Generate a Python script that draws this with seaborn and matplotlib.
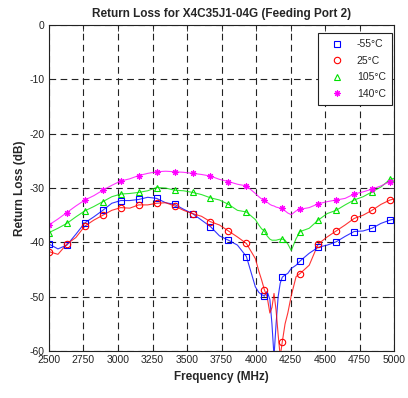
import numpy as np
import pandas as pd
import matplotlib
matplotlib.use("Agg")
import matplotlib.pyplot as plt
import seaborn as sns

# ---- data -------------------------------------------------------------
line_freq = [2500, 2565, 2630, 2695, 2760, 2825, 2890, 2955, 3020, 3085,
             3150, 3215, 3280, 3345, 3410, 3475, 3540, 3605, 3670, 3735,
             3800, 3865, 3930, 3995, 4020, 4040, 4060, 4080, 4100, 4115,
             4130, 4145, 4160, 4175, 4190, 4210, 4230, 4255, 4290, 4320,
             4385, 4450, 4515, 4580, 4645, 4710, 4775, 4840, 4905, 4970, 5000]

line_m55 = [-40.3, -41.2, -40.5, -38.5, -36.4, -35.3, -34.1, -32.8, -32.3, -32.3,
            -32.1, -31.7, -31.9, -32.7, -33.0, -33.9, -34.7, -35.9, -37.1, -38.8,
            -39.6, -40.5, -42.6, -48.2, -49.2, -49.6, -49.9, -49.0, -50.5, -55.0,
            -61.0, -55.0, -50.0, -47.5, -46.4, -46.0, -45.7, -44.8, -44.2, -43.4,
            -42.0, -40.9, -40.5, -39.9, -38.9, -38.0, -37.9, -37.4, -36.5, -35.9, -35.7]

line_25 = [-41.7, -42.2, -40.3, -39.1, -37.0, -35.9, -35.0, -34.1, -33.6, -33.7,
           -33.1, -33.1, -32.8, -32.7, -33.3, -34.1, -34.7, -35.2, -36.2, -36.8,
           -37.9, -39.0, -40.2, -43.0, -45.3, -46.9, -48.7, -50.0, -53.0, -52.0,
           -49.4, -52.5, -57.0, -61.0, -58.3, -55.0, -53.0, -49.8, -46.3, -45.7,
           -44.2, -40.3, -39.0, -37.9, -36.8, -35.6, -35.0, -34.1, -33.0, -32.2, -32.0]

line_105 = [-38.2, -37.4, -36.5, -35.3, -34.2, -33.4, -32.5, -31.6, -31.1, -31.0,
            -30.8, -30.5, -29.9, -30.0, -30.4, -30.5, -30.8, -31.2, -31.8, -32.2,
            -33.0, -34.1, -34.4, -35.8, -36.8, -37.5, -37.9, -38.8, -39.4, -39.6,
            -39.6, -39.6, -39.5, -39.4, -39.4, -39.6, -40.3, -41.5, -39.3, -38.0,
            -37.4, -35.9, -34.7, -34.1, -33.1, -32.2, -31.6, -30.7, -29.8, -28.4, -28.2]

line_140 = [-36.8, -35.7, -34.5, -33.3, -32.2, -31.4, -30.4, -29.5, -28.7, -28.3,
            -27.7, -27.3, -27.0, -26.9, -27.0, -27.1, -27.3, -27.5, -27.8, -28.4,
            -28.8, -29.3, -29.6, -31.0, -31.6, -32.0, -32.2, -32.6, -33.0, -33.2,
            -33.3, -33.5, -33.6, -33.7, -33.7, -34.2, -34.6, -34.9, -34.2, -33.9,
            -33.6, -32.9, -32.5, -32.2, -31.9, -31.1, -30.7, -30.2, -29.6, -28.8, -28.5]

marker_freq = [2500, 2630, 2760, 2890, 3020, 3150, 3280, 3410, 3540, 3670,
               3800, 3930, 4060, 4190, 4320, 4450, 4580, 4710, 4840, 4970]

mk_m55 = [-40.3, -40.5, -36.4, -34.1, -32.3, -32.1, -31.9, -33.0, -34.7, -37.1,
          -39.6, -42.6, -49.9, -46.4, -43.4, -40.9, -39.9, -38.0, -37.4, -35.9]
mk_25 = [-41.7, -40.3, -37.0, -35.0, -33.6, -33.1, -32.8, -33.3, -34.7, -36.2,
         -37.9, -40.2, -48.7, -58.3, -45.9, -40.3, -37.9, -35.6, -34.1, -32.2]
mk_105 = [-38.2, -36.5, -34.2, -32.5, -31.1, -30.8, -29.9, -30.4, -30.8, -31.8,
          -33.0, -34.4, -37.9, -39.4, -38.0, -35.9, -34.1, -32.2, -30.7, -28.4]
mk_140 = [-36.8, -34.5, -32.2, -30.4, -28.7, -27.7, -27.0, -27.0, -27.3, -27.8,
          -28.8, -29.6, -32.2, -33.7, -33.9, -32.9, -32.2, -31.1, -30.2, -28.8]

labels = ["-55°C", "25°C", "105°C", "140°C"]
x_ticks = [2500, 2750, 3000, 3250, 3500, 3750, 4000, 4250, 4500, 4750, 5000]
y_ticks = [0, -10, -20, -30, -40, -50, -60]

title = "Return Loss for X4C35J1-04G (Feeding Port 2)"
xlabel = "Frequency (MHz)"
ylabel = "Return Loss (dB)"

# ---- style ------------------------------------------------------------
sns.set_style("white")
plt.rcParams['font.family'] = ['Liberation Sans', 'DejaVu Sans']
plt.rcParams['axes.unicode_minus'] = False

colors = ["#0000ff", "#ff0000", "#00e000", "#ff00ff"]
markers = ["s", "o", "^", (8, 2, 0)]

fig = plt.figure(figsize=(4.08, 3.98), dpi=100)
ax = fig.add_axes([0.120, 0.118, 0.846, 0.819])

lines = [line_m55, line_25, line_105, line_140]
mks = [mk_m55, mk_25, mk_105, mk_140]

for ys, c in zip(lines, colors):
    sns.lineplot(x=line_freq, y=ys, ax=ax, color=c, linewidth=0.8,
                 alpha=0.8, sort=False, estimator=None)

for ys, c, m, lab in zip(mks, colors, markers, labels):
    sns.lineplot(x=marker_freq, y=ys, ax=ax, color=c, linestyle="",
                 marker=m, markersize=4.6, markerfacecolor="none",
                 markeredgecolor=c, markeredgewidth=0.8, label=lab,
                 sort=False, estimator=None)

ax.set_xlim(2500, 5000)
ax.set_ylim(-60, 0)
ax.set_xticks(x_ticks)
ax.set_yticks(y_ticks)
ax.tick_params(direction="in", length=4, width=0.6, labelsize=7.5,
               colors="#222222", top=True, right=True, pad=3)
for s in ax.spines.values():
    s.set_color("#222222")
    s.set_linewidth(0.8)

ax.grid(True, color="#222222", linestyle=(0, (6, 4)), linewidth=0.8)

ax.set_title(title, fontsize=8.5, fontweight="bold", pad=6)
ax.set_xlabel(xlabel, fontsize=8.5, fontweight="bold", labelpad=4)
ax.set_ylabel(ylabel, fontsize=8.5, fontweight="bold", labelpad=3)

leg = ax.legend(loc="upper right", bbox_to_anchor=(392 / 408, 1 - 33 / 398),
                bbox_transform=fig.transFigure,
                fontsize=7.5, frameon=True, fancybox=False,
                edgecolor="#222222", framealpha=1, borderpad=0.6,
                handletextpad=0.7, handlelength=2.4, labelspacing=0.62,
                borderaxespad=0.0)
leg.get_frame().set_linewidth(0.8)

fig.savefig("out.png", dpi=100)
